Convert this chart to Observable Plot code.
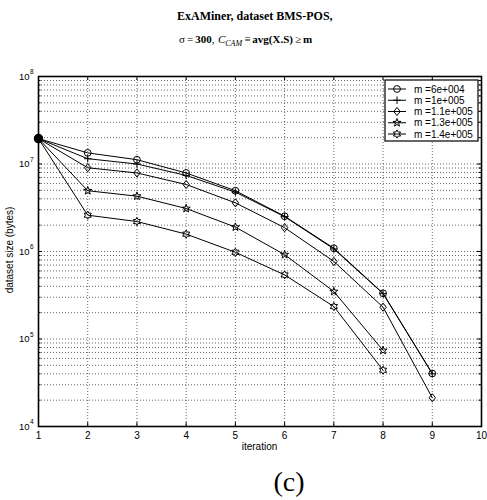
<!DOCTYPE html>
<html><head><meta charset="utf-8">
<script src="https://cdn.jsdelivr.net/npm/d3@7"></script>
<script src="https://cdn.jsdelivr.net/npm/@observablehq/plot@0.6"></script>
<style>body{margin:0;background:#fff} svg{display:block}</style>
</head><body><div id="chart"></div>
<script>
// ---- data ----
const iterations = [1, 2, 3, 4, 5, 6, 7, 8, 9];
const seriesLabels = ["m =6e+004", "m =1e+005", "m =1.1e+005", "m =1.3e+005", "m =1.4e+005"];
const sizeM6e4   = [1.95e7, 1.34e7, 1.12e7, 7.9e6, 4.95e6, 2.53e6, 1.09e6, 3.33e5, 4.04e4];
const sizeM1e5   = [1.95e7, 1.15e7, 1.0e7, 7.4e6, 4.77e6, 2.5e6, 1.07e6, 3.3e5, 4.0e4];
const sizeM1_1e5 = [1.95e7, 9.06e6, 7.9e6, 5.83e6, 3.6e6, 1.87e6, 7.7e5, 2.31e5, 2.13e4];
const sizeM1_3e5 = [1.95e7, 4.95e6, 4.29e6, 3.1e6, 1.9e6, 9.2e5, 3.49e5, 7.4e4];
const sizeM1_4e5 = [1.95e7, 2.6e6, 2.2e6, 1.58e6, 9.8e5, 5.4e5, 2.35e5, 4.4e4];
const seriesValues = [sizeM6e4, sizeM1e5, sizeM1_1e5, sizeM1_3e5, sizeM1_4e5];
const xTicks = [1, 2, 3, 4, 5, 6, 7, 8, 9, 10];
const yMajorTicks = [1e4, 1e5, 1e6, 1e7, 1e8];
const yTickExponents = ["4", "5", "6", "7", "8"];

// ---- table ----
const rows = [];
seriesValues.forEach((vals, s) => vals.forEach((v, i) => rows.push({series: seriesLabels[s], x: iterations[i], y: v})));
const yMinorTicks = [];
yMajorTicks.slice(0, -1).forEach(b => { for (let m = 2; m <= 9; m++) yMinorTicks.push(b * m); });

// ---- marker shapes (MATLAB-like) ----
const rad = s => Math.sqrt(s / Math.PI);
const circleSym = d3.symbolCircle;
const plusSym = {draw(c, s) { const r = rad(s) * 1.1; c.moveTo(-r, 0); c.lineTo(r, 0); c.moveTo(0, -r); c.lineTo(0, r); }};
const diamondSym = {draw(c, s) { const r = rad(s); c.moveTo(0, -r * 1.2); c.lineTo(r * 0.95, 0); c.lineTo(0, r * 1.2); c.lineTo(-r * 0.95, 0); c.closePath(); }};
function starPoly(n, inner, scale) {
  return {draw(c, s) {
    const R = rad(s) * scale, r = R * inner;
    for (let i = 0; i < 2 * n; i++) {
      const a = Math.PI / n * i - Math.PI / 2, rr = i % 2 ? r : R;
      const px = rr * Math.cos(a), py = rr * Math.sin(a);
      i ? c.lineTo(px, py) : c.moveTo(px, py);
    }
    c.closePath();
  }};
}
const pentagramSym = starPoly(5, 0.40, 1.25);
const hexagramSym = starPoly(6, 0.577, 1.2);
const symbols = [circleSym, plusSym, diamondSym, pentagramSym, hexagramSym];

// ---- layout ----
const W = 487, H = 500, mL = 38, mR = 6, mT = 76, mB = 74;
const fw = W - mL - mR, fh = H - mT - mB;
const grid = {stroke: "#000", strokeOpacity: 0.6, strokeDasharray: "1,2", strokeWidth: 1};
const tickStyle = {stroke: "#000", strokeWidth: 1};

const dotMarks = seriesLabels.map((lab, s) =>
  Plot.dot(rows.filter(d => d.series === lab), {x: "x", y: "y", symbol: symbols[s], r: 3.4, stroke: "#000", fill: "none", strokeWidth: 1})
);

const plot = Plot.plot({
  width: W, height: H,
  marginLeft: mL, marginRight: mR, marginTop: mT, marginBottom: mB,
  style: {fontFamily: "'Liberation Sans', Arial, sans-serif", fontSize: "10px", background: "#fff", color: "#000"},
  x: {domain: [1, 10], axis: null},
  y: {type: "log", domain: [1e4, 1e8], axis: null},
  marks: [
    Plot.ruleX(xTicks.filter(v => v > 1 && v < 10), {x: d => d, ...grid}),
    Plot.ruleY(yMajorTicks.concat(yMinorTicks).filter(v => v > 1e4 && v < 1e8), {y: d => d, ...grid}),
    Plot.tickY(yMajorTicks, {y: d => d, insetRight: fw - 4, ...tickStyle}),
    Plot.tickY(yMajorTicks, {y: d => d, insetLeft: fw - 4, ...tickStyle}),
    Plot.tickY(yMinorTicks, {y: d => d, insetRight: fw - 2.5, ...tickStyle}),
    Plot.tickY(yMinorTicks, {y: d => d, insetLeft: fw - 2.5, ...tickStyle}),
    Plot.tickX(xTicks, {x: d => d, insetTop: fh - 4, ...tickStyle}),
    Plot.tickX(xTicks, {x: d => d, insetBottom: fh - 4, ...tickStyle}),
    Plot.line(rows, {x: "x", y: "y", z: "series", stroke: "#000", strokeWidth: 1}),
    ...dotMarks,
    Plot.dot(rows.filter(d => d.x === iterations[0] && d.series === seriesLabels[0]), {x: "x", y: "y", r: 4, fill: "#000", stroke: "#000"}),
    Plot.frame({stroke: "#000", strokeWidth: 1.6}),
    Plot.axisX(xTicks, {tickSize: 0, tickPadding: 5, fontSize: 10, label: null}),
    Plot.text(yMajorTicks, {y: d => d, frameAnchor: "left", text: () => "10", textAnchor: "end", dx: -9, fontSize: 9.5}),
    Plot.text(yMajorTicks, {y: d => d, frameAnchor: "left", text: (d, i) => yTickExponents[i], textAnchor: "start", dx: -8.5, dy: -4.5, fontSize: 6.5})
  ]
});
document.getElementById("chart").appendChild(plot);

// ---- annotations ----
const svg = d3.select(plot);
const serif = "'Liberation Serif', 'Times New Roman', serif";
const sans = "'Liberation Sans', Arial, sans-serif";

svg.append("text").attr("x", 177).attr("y", 20).attr("text-anchor", "start")
  .attr("font-family", serif).attr("font-size", 12).attr("font-weight", "bold")
  .text("ExAMiner, dataset BMS-POS,");

const t2 = svg.append("text").attr("x", 179).attr("y", 43).attr("text-anchor", "start")
  .attr("font-family", serif).attr("font-size", 11);
t2.append("tspan").text("σ");
t2.append("tspan").attr("dx", 2).text("=");
t2.append("tspan").attr("dx", 2).attr("font-weight", "bold").text("300");
t2.append("tspan").text(",");
t2.append("tspan").attr("dx", 3.5).attr("font-style", "italic").text("C");
t2.append("tspan").attr("font-style", "italic").attr("font-size", 8).attr("dy", 2.5).text("CAM");
t2.append("tspan").attr("dy", -2.5).attr("dx", 2).text("≡");
t2.append("tspan").attr("dx", 2).attr("font-weight", "bold").text("avg(X.S)");
t2.append("tspan").attr("dx", 2).text("≥");
t2.append("tspan").attr("dx", 2).attr("font-weight", "bold").text("m");

svg.append("text").attr("transform", `translate(13,${mT + fh / 2 - 1}) rotate(-90)`)
  .attr("text-anchor", "middle").attr("font-family", sans).attr("font-size", 10)
  .text("dataset size (bytes)");

svg.append("text").attr("x", mL + fw / 2).attr("y", 450).attr("text-anchor", "middle")
  .attr("font-family", sans).attr("font-size", 10).text("iteration");

svg.append("text").attr("x", 289).attr("y", 491).attr("text-anchor", "middle")
  .attr("font-family", serif).attr("font-size", 28).text("(c)");

// ---- legend ----
const lg = svg.append("g");
const lx = 385, ly = 80, lw = 93, lh = 61, step = 11.25;
lg.append("rect").attr("x", lx).attr("y", ly).attr("width", lw).attr("height", lh)
  .attr("fill", "#fff").attr("stroke", "#000").attr("stroke-width", 1.2);
seriesLabels.forEach((lab, s) => {
  const cy = ly + 9 + s * step;
  lg.append("line").attr("x1", lx + 3).attr("x2", lx + 21).attr("y1", cy).attr("y2", cy).attr("stroke", "#000");
  lg.append("path").attr("d", d3.symbol(symbols[s], Math.PI * 3.4 * 3.4)())
    .attr("transform", `translate(${lx + 12},${cy})`).attr("fill", "none").attr("stroke", "#000");
  lg.append("text").attr("x", lx + 29).attr("y", cy + 3.5).attr("text-anchor", "start")
    .attr("font-family", sans).attr("font-size", 10).text(lab);
});
</script>
</body></html>
